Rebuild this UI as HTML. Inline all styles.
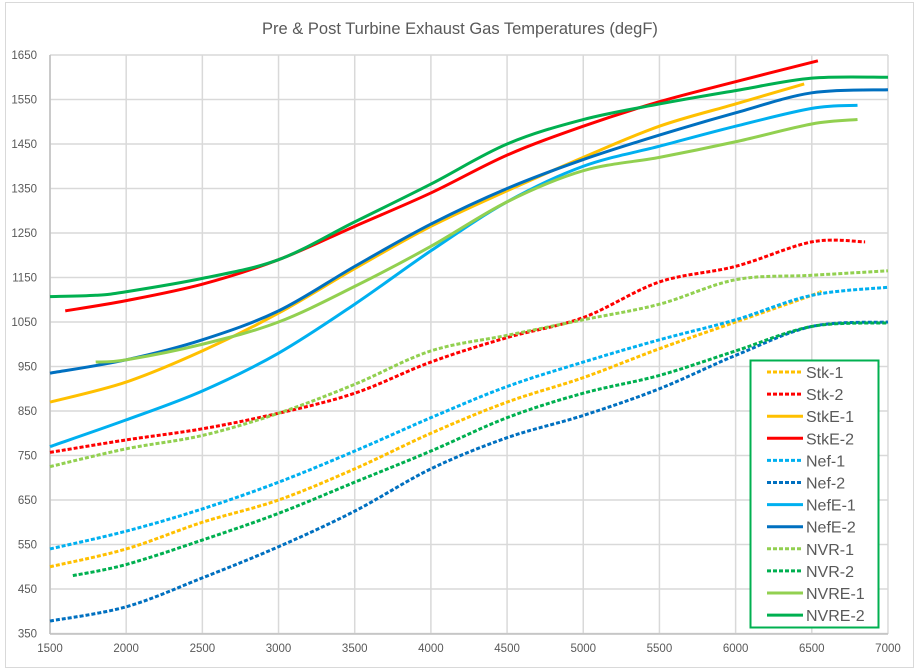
<!DOCTYPE html>
<html><head><meta charset="utf-8"><style>
body{margin:0;background:#fff;}
svg{display:block;font-family:"Liberation Sans",sans-serif;}
</style></head><body>
<svg id="c" width="920" height="671" xmlns="http://www.w3.org/2000/svg">
<rect x="5.5" y="2.5" width="908" height="665" fill="#fff" stroke="#d9d9d9"/>
<text x="460" y="34" text-anchor="middle" font-size="16.5" fill="#595959">Pre &amp; Post Turbine Exhaust Gas Temperatures (degF)</text>
<g id="grid"></g><g id="series"></g>
<g id="legend">
<rect x="750.5" y="360.5" width="128" height="267" fill="#fff" stroke="#00B050" stroke-width="2"/>
</g>
</svg>
<script>
const X=v=>50+(v-1500)*0.15236, Y=v=>55+(1650-v)*0.445;
const ns="http://www.w3.org/2000/svg";
function el(t,a,p){const e=document.createElementNS(ns,t);for(const k in a)e.setAttribute(k,a[k]);p.appendChild(e);return e;}
const g=document.getElementById('grid');
for(let v=350;v<=1650;v+=100){el('line',{x1:50,x2:888,y1:Y(v),y2:Y(v),stroke:'#d9d9d9','stroke-width':1.5},g);
 el('text',{x:37,y:Y(v)+4,'text-anchor':'end','font-size':11.5,fill:'#595959'},g).textContent=v;}
for(let v=1500;v<=7000;v+=500){el('line',{x1:X(v),x2:X(v),y1:55,y2:634,stroke:'#d9d9d9','stroke-width':1.5},g);
 el('text',{x:X(v),y:652,'text-anchor':'middle','font-size':11.5,fill:'#595959'},g).textContent=v;}
el('line',{x1:50,x2:50,y1:55,y2:634,stroke:'#bfbfbf','stroke-width':1.5},g);
el('line',{x1:50,x2:888,y1:634,y2:634,stroke:'#bfbfbf','stroke-width':1.5},g);
const S=[
['Stk-1','#FFC000',1,[[1500,500],[2000,540],[2500,600],[3000,650],[3500,720],[4000,800],[4500,870],[5000,925],[5500,990],[6000,1050],[6500,1110],[6550,1118]]],
['Stk-2','#FF0000',1,[[1500,757],[2000,785],[2500,810],[3000,845],[3500,890],[4000,960],[4500,1015],[5000,1060],[5500,1140],[6000,1175],[6500,1230],[6850,1230]]],
['StkE-1','#FFC000',0,[[1500,870],[2000,915],[2500,985],[3000,1070],[3500,1170],[4000,1265],[4500,1345],[5000,1420],[5500,1490],[6000,1540],[6450,1585]]],
['StkE-2','#FF0000',0,[[1600,1075],[2000,1098],[2500,1135],[3000,1190],[3500,1265],[4000,1340],[4500,1425],[5000,1490],[5500,1545],[6000,1590],[6540,1637]]],
['Nef-1','#00B0F0',1,[[1500,540],[2000,580],[2500,630],[3000,690],[3500,760],[4000,835],[4500,905],[5000,960],[5500,1010],[6000,1055],[6500,1110],[7000,1128]]],
['Nef-2','#0070C0',1,[[1500,378],[2000,410],[2500,475],[3000,545],[3500,625],[4000,720],[4500,790],[5000,840],[5500,900],[6000,975],[6500,1040],[7000,1050]]],
['NefE-1','#00B0F0',0,[[1500,770],[2000,830],[2500,895],[3000,980],[3500,1090],[4000,1210],[4500,1320],[5000,1400],[5500,1445],[6000,1490],[6500,1530],[6800,1537]]],
['NefE-2','#0070C0',0,[[1500,935],[2000,965],[2500,1010],[3000,1075],[3500,1175],[4000,1270],[4500,1350],[5000,1415],[5500,1470],[6000,1520],[6500,1565],[7000,1572]]],
['NVR-1','#92D050',1,[[1500,725],[2000,765],[2500,795],[3000,845],[3500,910],[4000,985],[4500,1020],[5000,1055],[5500,1090],[6000,1145],[6500,1155],[7000,1165]]],
['NVR-2','#00B050',1,[[1650,480],[2000,505],[2500,560],[3000,620],[3500,690],[4000,760],[4500,835],[5000,890],[5500,930],[6000,985],[6500,1040],[7000,1048]]],
['NVRE-1','#92D050',0,[[1800,960],[2000,965],[2500,1000],[3000,1050],[3500,1130],[4000,1220],[4500,1320],[5000,1390],[5500,1420],[6000,1455],[6500,1495],[6800,1505]]],
['NVRE-2','#00B050',0,[[1500,1107],[1800,1110],[2000,1118],[2500,1148],[3000,1190],[3500,1275],[4000,1360],[4500,1450],[5000,1505],[5500,1540],[6000,1570],[6500,1598],[7000,1600]]]
];
const sg=document.getElementById('series'),lg=document.getElementById('legend');
S.forEach((s,i)=>{
 const p=s[3].map(q=>[X(q[0]),Y(q[1])]);
 let d='M'+p[0][0]+','+p[0][1];
 for(let k=0;k<p.length-1;k++){const a=p[k-1]||p[k],b=p[k],c=p[k+1],e=p[k+2]||c;
  d+=` C${b[0]+(c[0]-a[0])/6},${b[1]+(c[1]-a[1])/6} ${c[0]-(e[0]-b[0])/6},${c[1]-(e[1]-b[1])/6} ${c[0]},${c[1]}`;}
 const at={d:d,fill:'none',stroke:s[1],'stroke-width':3};
 if(s[2])at['stroke-dasharray']='4 2';
 el('path',at,sg);
 const ly=372+i*22.1;
 const la={x1:767,x2:803,y1:ly,y2:ly,stroke:s[1],'stroke-width':3};
 if(s[2])la['stroke-dasharray']='4 2';
 el('line',la,lg);
 el('text',{x:806,y:ly+6,'font-size':16,fill:'#595959'},lg).textContent=s[0];
});
</script>
</body></html>
